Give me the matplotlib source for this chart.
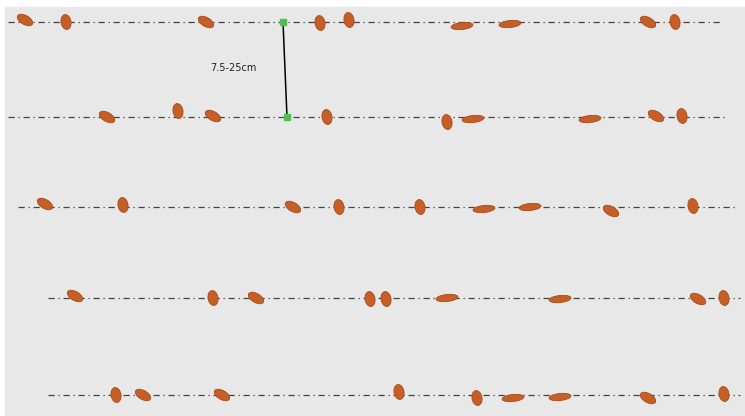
import matplotlib.pyplot as plt
from matplotlib.patches import Ellipse, Rectangle

# seed rows (image pixel coords, y grows downwards)
row_y = [22, 117, 207, 298, 395]
row_start = [8, 8, 18, 48, 48]
row_end = [722, 725, 738, 740, 740]

# seed positions along each row
seed_x = [
    [25, 66, 206, 320, 349, 462, 510, 648, 675],
    [107, 178, 213, 327, 447, 473, 590, 656, 682],
    [45, 123, 293, 339, 420, 484, 530, 611, 693],
    [75, 213, 256, 370, 386, 447, 560, 698, 724],
    [116, 143, 222, 399, 477, 513, 560, 648, 724],
]
# small vertical offset of each seed from its row line
seed_dy = [
    [-2, 0, 0, 1, -2, 4, 2, 0, 0],
    [0, -6, -1, 0, 5, 2, 2, -1, -1],
    [-3, -2, 0, 0, 0, 2, 0, 4, -1],
    [-2, 0, 0, 1, 1, 0, 1, 1, 0],
    [0, 0, 0, -3, 3, 3, 2, 3, -1],
]
# seed shape: "v" upright, "t" tilted, "h" lying flat
seed_kind = [
    ["t", "v", "t", "v", "v", "h", "h", "t", "v"],
    ["t", "v", "t", "v", "v", "h", "h", "t", "v"],
    ["t", "v", "t", "v", "v", "h", "h", "t", "v"],
    ["t", "v", "t", "v", "v", "h", "h", "t", "v"],
    ["v", "t", "t", "v", "v", "h", "h", "t", "v"],
]

# spacing marker between row 1 and row 2
gap_x = [283, 287]
gap_y = [22, 117]
gap_label = "7.5-25cm"

# width, height, angle (y axis is inverted, so positive angle tilts down-right)
shapes = {"v": (15, 10, 80), "t": (17, 9, 30), "h": (22, 7, -6)}
seed_color = "#c65f26"

fig = plt.figure(figsize=(7.45, 4.16), dpi=100)
ax = fig.add_axes([0, 0, 1, 1])
ax.set_xlim(0, 745)
ax.set_ylim(416, 0)
ax.axis("off")
fig.patch.set_facecolor("white")

# soil background
ax.add_patch(Rectangle((5, 7), 745, 416, color="#e8e8e8", zorder=0))

for i in range(len(row_y)):
    ax.plot([row_start[i], row_end[i]], [row_y[i], row_y[i]],
            color="#444444", lw=0.9, ls=(0, (5, 3, 1, 3)), zorder=1)
    for x, dy, k in zip(seed_x[i], seed_dy[i], seed_kind[i]):
        w, h, a = shapes[k]
        ax.add_patch(Ellipse((x, row_y[i] + dy), w, h, angle=a,
                             facecolor=seed_color, edgecolor="#a84a1a",
                             lw=0.6, zorder=2))

ax.plot(gap_x, gap_y, color="black", lw=1.1, zorder=3)
ax.plot(gap_x, gap_y, ls="none", marker="s", ms=5, color="#4fbf4f", zorder=4)
ax.text(233, 68, gap_label, fontsize=7, ha="center", va="center", color="#222222")

fig.savefig("out.png", dpi=100)
